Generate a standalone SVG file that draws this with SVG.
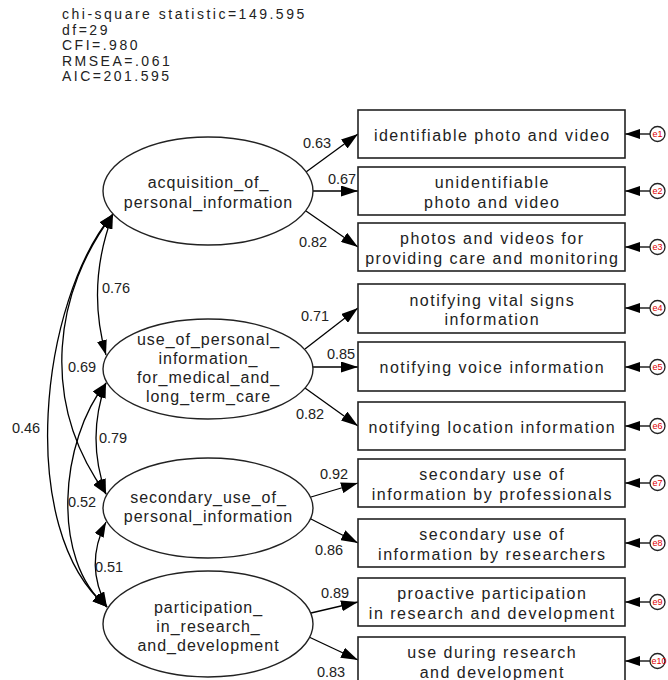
<svg xmlns="http://www.w3.org/2000/svg" width="668" height="680" viewBox="0 0 668 680">
<defs>
<style>
text{font-family:"Liberation Sans",Arial,sans-serif;fill:#222}
.stat{font-size:14px;letter-spacing:2.5px}
.lat{font-size:16px;letter-spacing:1px;text-anchor:middle}
.obs{font-size:16px;letter-spacing:1.5px;text-anchor:middle}
.coef{font-size:14.5px;text-anchor:middle}
.elab{font-size:9px;fill:#e00000;text-anchor:middle}
ellipse{fill:#fff;stroke:#222;stroke-width:1.4}
rect{fill:#fff;stroke:#222;stroke-width:1.6}
circle{fill:#fff;stroke:#222;stroke-width:1.3}
.ln{fill:none;stroke:#000;stroke-width:1.3;marker-end:url(#ahL)}
.er{fill:none;stroke:#000;stroke-width:1.3;marker-end:url(#ah)}
.cv{fill:none;stroke:#000;stroke-width:1.3;marker-start:url(#ah);marker-end:url(#ah)}
</style>
<marker id="ah" markerUnits="userSpaceOnUse" viewBox="0 0 15 10" markerWidth="15" markerHeight="10" refX="15" refY="5" orient="auto-start-reverse">
<path d="M0,0 L15,5 L0,10 z" fill="#000"/>
</marker>
<marker id="ahL" markerUnits="userSpaceOnUse" viewBox="0 0 17 11" markerWidth="17" markerHeight="11" refX="17" refY="5.5" orient="auto">
<path d="M0,0 L17,5.5 L0,11 z" fill="#000"/>
</marker>
</defs>
<rect x="0" y="0" width="668" height="680" style="fill:#fff;stroke:none"/>

<g id="fit-stats">
<text class="stat" x="62" y="19">chi-square statistic=149.595</text>
<text class="stat" x="62" y="34.5">df=29</text>
<text class="stat" x="62" y="50">CFI=.980</text>
<text class="stat" x="62" y="65.5">RMSEA=.061</text>
<text class="stat" x="62" y="81">AIC=201.595</text>
</g>

<g id="connectors">
<!-- loadings -->
<path class="ln" d="M306,172 L358,134"/>
<path class="ln" d="M313,191 L358,191"/>
<path class="ln" d="M306,211 L358,247"/>
<path class="ln" d="M305,349 L358,308"/>
<path class="ln" d="M313,367 L358,367"/>
<path class="ln" d="M305,388 L358,426"/>
<path class="ln" d="M311,497 L358,483"/>
<path class="ln" d="M309,518 L358,543"/>
<path class="ln" d="M311,613 L358,602"/>
<path class="ln" d="M309,637 L358,660"/>
<!-- error arrows -->
<path class="er" d="M650,134 L625,134"/>
<path class="er" d="M650,191 L625,191"/>
<path class="er" d="M650,247 L625,247"/>
<path class="er" d="M650,308 L625,308"/>
<path class="er" d="M650,367 L625,367"/>
<path class="er" d="M650,426 L625,426"/>
<path class="er" d="M650,483 L625,483"/>
<path class="er" d="M650,543 L625,543"/>
<path class="er" d="M650,602 L625,602"/>
<path class="er" d="M650,661 L625,661"/>
<!-- covariances -->
<path class="cv" d="M113,214 Q86,285 106,355"/>
<path class="cv" d="M113,214 C55,290 38,400 106,494"/>
<path class="cv" d="M113,214 C40,300 15,530 107,607"/>
<path class="cv" d="M106,383 Q86,438 106,494"/>
<path class="cv" d="M106,383 C60,440 50,560 107,607"/>
<path class="cv" d="M106,522 Q84,565 107,607"/>
<!-- labels -->
<text class="coef" x="317" y="148">0.63</text>
<text class="coef" x="342" y="184">0.67</text>
<text class="coef" x="313" y="247">0.82</text>
<text class="coef" x="315" y="321">0.71</text>
<text class="coef" x="341" y="359">0.85</text>
<text class="coef" x="310" y="419">0.82</text>
<text class="coef" x="334" y="479">0.92</text>
<text class="coef" x="329" y="555">0.86</text>
<text class="coef" x="335" y="598">0.89</text>
<text class="coef" x="331" y="677">0.83</text>
<text class="coef" x="116" y="293">0.76</text>
<text class="coef" x="82" y="372">0.69</text>
<text class="coef" x="26" y="433">0.46</text>
<text class="coef" x="113" y="443">0.79</text>
<text class="coef" x="82" y="507">0.52</text>
<text class="coef" x="109" y="572">0.51</text>
</g>

<g id="latent1">
<ellipse cx="208" cy="191" rx="105" ry="54"/>
<text class="lat" x="208.5" y="188">acquisition_of_</text>
<text class="lat" x="208.5" y="208">personal_information</text>
</g>
<g id="latent2">
<ellipse cx="208" cy="369" rx="105" ry="50"/>
<text class="lat" x="208.5" y="345">use_of_personal_</text>
<text class="lat" x="208.5" y="364">information_</text>
<text class="lat" x="208.5" y="383">for_medical_and_</text>
<text class="lat" x="208.5" y="402">long_term_care</text>
</g>
<g id="latent3">
<ellipse cx="208" cy="508" rx="105" ry="50"/>
<text class="lat" x="208.5" y="503">secondary_use_of_</text>
<text class="lat" x="208.5" y="522">personal_information</text>
</g>
<g id="latent4">
<ellipse cx="208" cy="624" rx="105" ry="53"/>
<text class="lat" x="208.5" y="613">participation_</text>
<text class="lat" x="208.5" y="632">in_research_</text>
<text class="lat" x="208.5" y="651">and_development</text>
</g>

<g id="obs1"><rect x="358" y="110" width="267" height="48"/>
<text class="obs" x="492.3" y="140.5">identifiable photo and video</text></g>
<g id="obs2"><rect x="358" y="167" width="267" height="48"/>
<text class="obs" x="492.3" y="188">unidentifiable</text>
<text class="obs" x="492.3" y="207.5">photo and video</text></g>
<g id="obs3"><rect x="358" y="223" width="267" height="48"/>
<text class="obs" x="492.3" y="244">photos and videos for</text>
<text class="obs" x="492.3" y="263.5">providing care and monitoring</text></g>
<g id="obs4"><rect x="358" y="284" width="267" height="49"/>
<text class="obs" x="492.3" y="305.5">notifying vital signs</text>
<text class="obs" x="492.3" y="325">information</text></g>
<g id="obs5"><rect x="358" y="342" width="267" height="49"/>
<text class="obs" x="492.3" y="373">notifying voice information</text></g>
<g id="obs6"><rect x="358" y="402" width="267" height="48"/>
<text class="obs" x="492.3" y="432.5">notifying location information</text></g>
<g id="obs7"><rect x="358" y="459" width="267" height="48"/>
<text class="obs" x="492.3" y="480">secondary use of</text>
<text class="obs" x="492.3" y="499.5">information by professionals</text></g>
<g id="obs8"><rect x="358" y="519" width="267" height="48"/>
<text class="obs" x="492.3" y="540">secondary use of</text>
<text class="obs" x="492.3" y="559.5">information by researchers</text></g>
<g id="obs9"><rect x="358" y="578" width="267" height="48"/>
<text class="obs" x="492.3" y="599">proactive participation</text>
<text class="obs" x="492.3" y="618.5">in research and development</text></g>
<g id="obs10"><rect x="358" y="637" width="267" height="48"/>
<text class="obs" x="492.3" y="658">use during research</text>
<text class="obs" x="492.3" y="677.5">and development</text></g>

<g id="e1"><circle cx="657.5" cy="134" r="7.5"/><text class="elab" x="657.5" y="137.2">e1</text></g>
<g id="e2"><circle cx="657.5" cy="191" r="7.5"/><text class="elab" x="657.5" y="194.2">e2</text></g>
<g id="e3"><circle cx="657.5" cy="247" r="7.5"/><text class="elab" x="657.5" y="250.2">e3</text></g>
<g id="e4"><circle cx="657.5" cy="308" r="7.5"/><text class="elab" x="657.5" y="311.2">e4</text></g>
<g id="e5"><circle cx="657.5" cy="367" r="7.5"/><text class="elab" x="657.5" y="370.2">e5</text></g>
<g id="e6"><circle cx="657.5" cy="426" r="7.5"/><text class="elab" x="657.5" y="429.2">e6</text></g>
<g id="e7"><circle cx="657.5" cy="483" r="7.5"/><text class="elab" x="657.5" y="486.2">e7</text></g>
<g id="e8"><circle cx="657.5" cy="543" r="7.5"/><text class="elab" x="657.5" y="546.2">e8</text></g>
<g id="e9"><circle cx="657.5" cy="602" r="7.5"/><text class="elab" x="657.5" y="605.2">e9</text></g>
<g id="e10"><circle cx="657.5" cy="661" r="7.5"/><text class="elab" x="659" y="664.2">e10</text></g>
</svg>
